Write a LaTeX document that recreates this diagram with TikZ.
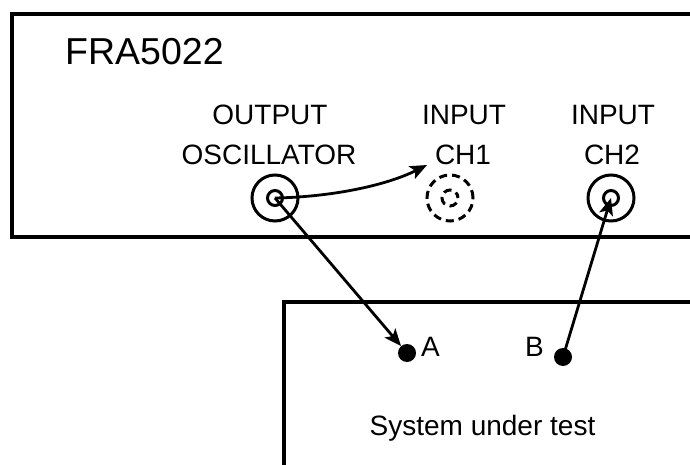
\documentclass[tikz,border=0pt]{standalone}
\usepackage{fontspec}
\setmainfont{Liberation Sans}
\usetikzlibrary{arrows.meta,positioning}
\begin{document}
\begin{tikzpicture}[
    x=1pt, y=-1pt,
    panel/.style={line width=4pt},
    jack/.style={circle,draw,line width=3pt,minimum size=46pt,inner sep=0pt},
    pin/.style={circle,draw,line width=3pt,minimum size=15pt,inner sep=0pt},
    unused/.style={dash pattern=on 8pt off 5pt},
    unusedpin/.style={dash pattern=on 8pt off 5pt,dash phase=2pt},
    probe/.style={circle,fill,minimum size=18pt,inner sep=0pt},
    wire/.style={line width=2.8pt,-{Stealth[length=17pt,width=14pt,inset=4pt]}},
    lbl/.style={font=\fontsize{28}{34}\selectfont,inner sep=0pt,anchor=base},
    title/.style={font=\fontsize{37.5}{45}\selectfont,inner sep=0pt,anchor=base west}
  ]
  \useasboundingbox (0,0) rectangle (690,465);
  % Draw the two housings.
  \draw[panel] (692,14) -- (12,14) -- (12,237) -- (692,237);
  \draw[panel] (284,467) -- (284,302) -- (692,302);
  \node[title] (fra) at (65,65) {FRA5022};
  \node[lbl] (sut) at (482.5,435) {System under test};
  % Draw the connectors on the front panel.
  \node[jack] (osc) at (275,198) {};
  \node[pin] (oscpin) at (275,198) {};
  \node[jack,unused] (ch1) at (450,198) {};
  \node[pin,minimum size=16pt,unusedpin] (ch1pin) at (450,198) {};
  \node[jack] (ch2) at (611,198) {};
  \node[pin] (ch2pin) at (611,198) {};
  % Draw the panel labels.
  \node[lbl] (osctop) at (270,125) {OUTPUT};
  \node[lbl] (oscbot) at (269,165) {OSCILLATOR};
  \node[lbl] (ch1top) at (464,125) {INPUT};
  \node[lbl] (ch1bot) at (463,165) {CH1};
  \node[lbl] (ch2top) at (613,125) {INPUT};
  \node[lbl] (ch2bot) at (612,165) {CH2};
  % Draw the test points.
  \node[probe] (ptA) at (407,353) {};
  \node[probe] (ptB) at (563,357) {};
  \node[lbl,anchor=base west] (labA) at (421,356) {A};
  \node[lbl,anchor=base west] (labB) at (525,356) {B};
  % Draw the cables.
  \coordinate (ch1tip) at (427,165);
  \draw[wire] (osc.center) .. controls (330,197) and (385,186) .. (ch1tip);
  \draw[wire] (osc.center) -- (ptA);
  \draw[wire] (ptB.center) -- (ch2.center);
\end{tikzpicture}
\end{document}
